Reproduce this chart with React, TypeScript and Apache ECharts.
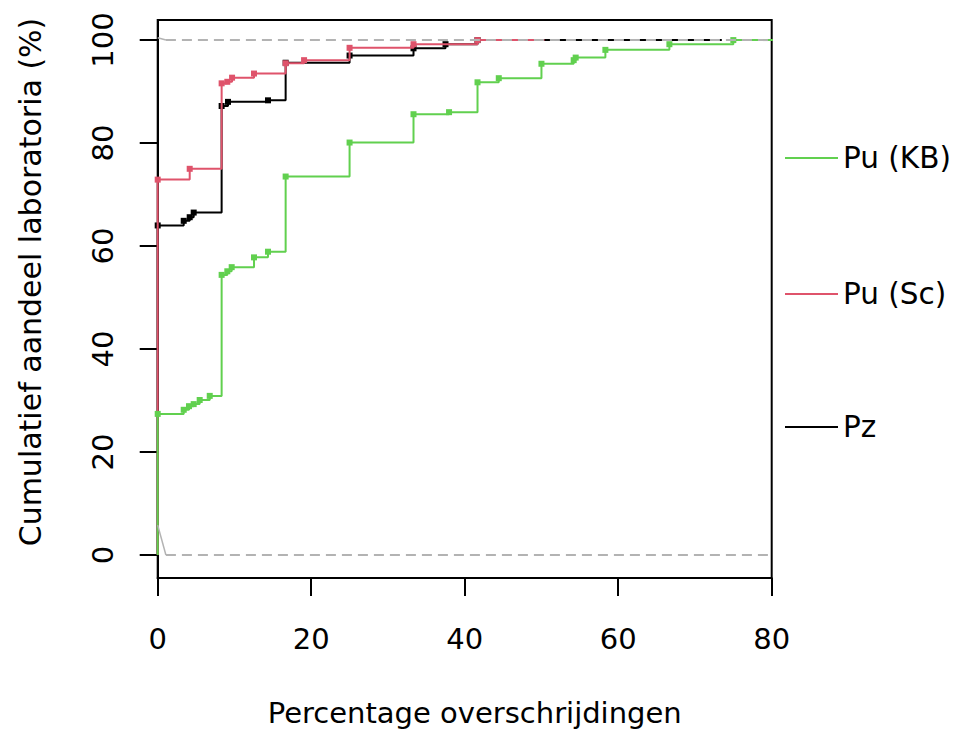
import React, { useEffect, useRef } from "react";
import * as echarts from "echarts";

// Pu (KB) — green
const kbX = [0, 3.39, 4.08, 4.69, 5.47, 6.78, 8.33, 9.07, 9.64, 12.55, 14.37, 16.67, 25, 33.33, 37.96, 41.67, 44.44, 50, 54.2, 54.46, 58.33, 66.67, 75];
const kbY = [27.4, 28.2, 28.9, 29.3, 30.1, 30.9, 54.4, 55.1, 55.9, 57.8, 58.9, 73.5, 80.1, 85.6, 86.0, 91.8, 92.6, 95.4, 96.1, 96.6, 98.1, 99.2, 100];
const kbEnd = 81;

// Pu (Sc) — red
const scX = [0, 4.17, 8.33, 9.07, 9.69, 12.55, 16.67, 19.07, 25, 33.33, 41.67];
const scY = [72.9, 75.0, 91.6, 91.9, 92.7, 93.5, 95.5, 96.1, 98.5, 99.2, 100];
const scEnd = 50.4;

// Pz — black
const pzX = [0, 3.39, 4.17, 4.69, 8.33, 9.16, 14.37, 16.67, 25, 33.33, 37.5, 41.67];
const pzY = [64.0, 64.9, 65.6, 66.5, 87.2, 88.0, 88.3, 95.6, 97.0, 98.4, 99.2, 100];
const pzEnd = 73.5;

const refLevels = [0, 100];
const refStart = 1.07;
const diagLow = [[0, 5.8], [1.07, 0]];
const diagHigh = [[0, 100.45], [1.07, 100]];

const xTicks = [0, 20, 40, 60, 80];
const yTicks = [0, 20, 40, 60, 80, 100];

const legendNames = ["Pu (KB)", "Pu (Sc)", "Pz"];
const legendColors = ["#61D04F", "#DF536B", "#000000"];

const FONT = "DejaVu Sans";

function stepData(xs: number[], ys: number[], end: number) {
  const d: any[] = [{ value: [xs[0], 0], symbol: "none" }];
  xs.forEach((x, i) => d.push({ value: [x, ys[i]] }));
  d.push({ value: [end, ys[ys.length - 1]], symbol: "none" });
  return d;
}

function stepSeries(name: string, xs: number[], ys: number[], end: number, color: string, z: number) {
  return {
    type: "line",
    name,
    step: "end",
    data: stepData(xs, ys, end),
    symbol: "rect",
    symbolSize: 6,
    showSymbol: true,
    lineStyle: { color, width: 2 },
    itemStyle: { color },
    z,
    clip: true,
    silent: true,
  };
}

export default function App() {
  const ref = useRef<HTMLDivElement>(null);
  useEffect(() => {
    if (!ref.current) return;
    const chart = echarts.init(ref.current, undefined, { renderer: "svg" });
    const grey = "#B3B3B3";
    const series: any[] = [
      stepSeries(legendNames[2], pzX, pzY, pzEnd, legendColors[2], 2),
      stepSeries(legendNames[1], scX, scY, scEnd, legendColors[1], 3),
      stepSeries(legendNames[0], kbX, kbY, kbEnd, legendColors[0], 4),
      ...refLevels.map((lv) => ({
        type: "line",
        data: [[refStart, lv], [80, lv]],
        symbol: "none",
        lineStyle: { color: grey, width: 2, type: [10, 6] },
        z: 5,
        silent: true,
      })),
      ...[diagLow, diagHigh].map((d) => ({
        type: "line",
        data: d,
        symbol: "none",
        lineStyle: { color: grey, width: 1.5 },
        z: 5,
        silent: true,
      })),
    ];
    const legendY = [158, 294, 427];
    const graphic: any[] = [];
    legendNames.forEach((n, i) => {
      graphic.push({
        type: "line",
        shape: { x1: 785, y1: legendY[i], x2: 838, y2: legendY[i] },
        style: { stroke: legendColors[i], lineWidth: 2 },
      });
      graphic.push({
        type: "text",
        x: 843,
        y: legendY[i],
        style: { text: n, font: `29.5px '${FONT}'`, fill: "#000", textVerticalAlign: "middle", textAlign: "left" },
      });
    });
    chart.setOption({
      animation: false,
      backgroundColor: "#fff",
      grid: {
        left: 157.7,
        right: 954 - 771.7,
        top: 20,
        bottom: 733 - 578,
        show: true,
        borderColor: "#000",
        borderWidth: 2,
      },
      xAxis: {
        type: "value",
        min: 0,
        max: 80,
        interval: 20,
        name: "Percentage overschrijdingen",
        nameLocation: "middle",
        nameGap: 120,
        nameTextStyle: { fontFamily: FONT, fontSize: 29, color: "#000", padding: [0, 0, 0, 20] },
        axisLine: { show: true, onZero: false, lineStyle: { color: "#000", width: 2 } },
        axisTick: { show: true, inside: false, length: 18, lineStyle: { color: "#000", width: 2 } },
        axisLabel: { margin: 46, fontFamily: FONT, fontSize: 29, color: "#000" },
        splitLine: { show: false },
      },
      yAxis: {
        type: "value",
        min: -4.47,
        max: 103.9,
        name: "Cumulatief aandeel laboratoria (%)",
        nameLocation: "middle",
        nameGap: 112,
        nameRotate: 90,
        nameTextStyle: { fontFamily: FONT, fontSize: 30, color: "#000", padding: [0, 0, 0, 34] },
        axisLine: { show: true, onZero: false, lineStyle: { color: "#000", width: 2 } },
        axisTick: { show: true, inside: false, length: 18, lineStyle: { color: "#000", width: 2 }, customValues: yTicks },
        axisLabel: { rotate: 90, margin: 40, fontFamily: FONT, fontSize: 29, color: "#000", customValues: yTicks },
        splitLine: { show: false },
      },
      series,
      graphic,
    });
    return () => chart.dispose();
  }, []);
  return <div ref={ref} style={{ position: "fixed", left: 0, top: 0, width: 954, height: 733 }} />;
}
